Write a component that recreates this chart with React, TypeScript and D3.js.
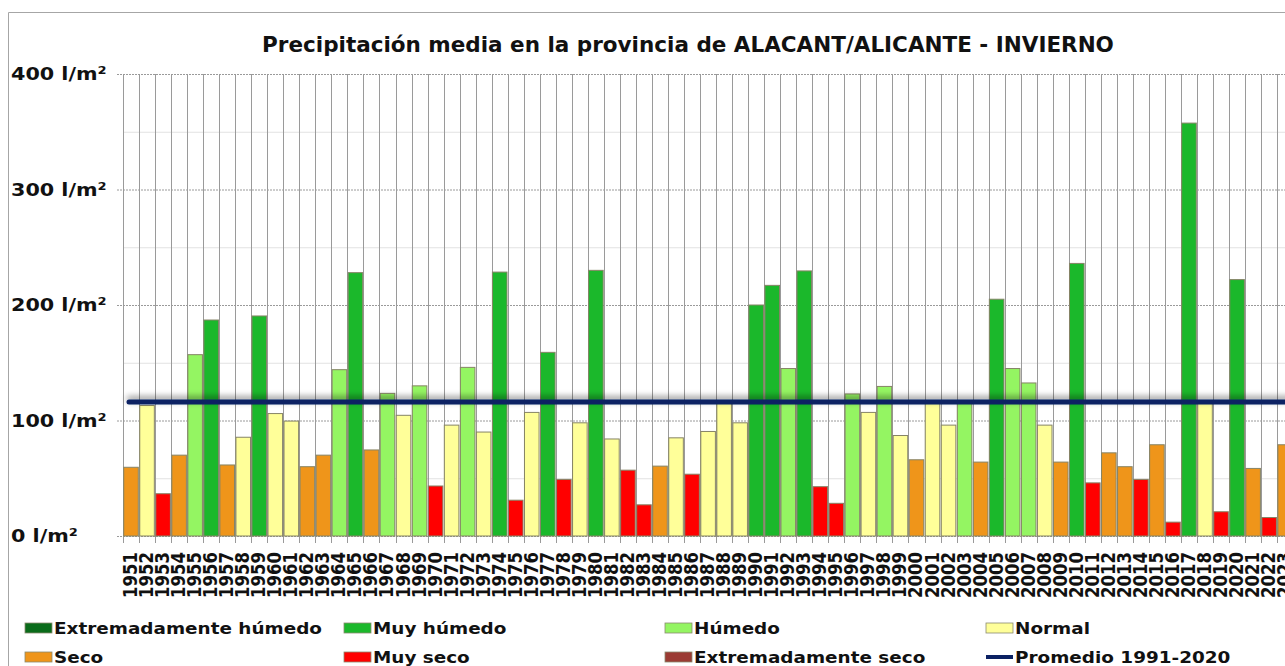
import { useEffect, useRef } from 'react';
import * as d3 from 'd3';

// Precipitación invierno, Alicante
const years = d3.range(1951, 2024).map(String);

const values = [
  59.5, 113, 36.6, 70, 157, 187, 61.5, 85.5, 190.5, 106,
  99.5, 60, 70, 144, 228, 74.5, 123.5, 104.5, 130, 43.3,
  96, 146, 90, 228.5, 31, 107, 159, 49, 98, 230,
  84, 57, 27, 60.5, 85, 53.5, 90.5, 115, 98, 200,
  217, 145, 229.5, 42.7, 28.3, 123, 107, 129.5, 87, 66,
  115, 96, 115, 64, 205, 145, 132.5, 96, 64, 236,
  46, 72, 60, 49, 79, 12, 357.5, 115, 21, 222,
  58.5, 16, 79,
];

// EH, MH, H, N, S, MS, ES
const classes = [
  'S', 'N', 'MS', 'S', 'H', 'MH', 'S', 'N', 'MH', 'N',
  'N', 'S', 'S', 'H', 'MH', 'S', 'H', 'N', 'H', 'MS',
  'N', 'H', 'N', 'MH', 'MS', 'N', 'MH', 'MS', 'N', 'MH',
  'N', 'MS', 'MS', 'S', 'N', 'MS', 'N', 'N', 'N', 'MH',
  'MH', 'H', 'MH', 'MS', 'MS', 'H', 'N', 'H', 'N', 'S',
  'N', 'N', 'H', 'S', 'MH', 'H', 'H', 'N', 'S', 'MH',
  'MS', 'S', 'S', 'MS', 'S', 'MS', 'MH', 'N', 'MS', 'MH',
  'S', 'MS', 'S',
];

const average = 116;
const yTicks = [0, 100, 200, 300, 400];
const yMinor = [50, 150, 250, 350];

const legendKeys = ['EH', 'MH', 'H', 'N', 'S', 'MS', 'ES', 'AVG'];
const legendLabels = [
  'Extremadamente húmedo', 'Muy húmedo', 'Húmedo', 'Normal',
  'Seco', 'Muy seco', 'Extremadamente seco', 'Promedio 1991-2020',
];

const colors: Record<string, string> = {
  EH: '#0a6b1a',
  MH: '#1bb82b',
  H: '#94f562',
  N: '#ffff99',
  S: '#ef951a',
  MS: '#ff0000',
  ES: '#9b3b33',
  AVG: '#0b2163',
};

const W = 1285;
const H = 666;
const SX = 1.15; // the original image is a bit stretched horizontally
const FONT = "'DejaVu Sans', Verdana, sans-serif";

const App = () => {
  const ref = useRef<SVGSVGElement>(null);

  useEffect(() => {
    const svg = d3.select(ref.current);
    svg.selectAll('*').remove();

    const step = 16.03;
    const left = 123;
    const x = d3.scaleBand()
      .domain(years)
      .range([left, left + years.length * step])
      .paddingInner(0.09)
      .paddingOuter(0.045);
    const y = d3.scaleLinear().domain([0, 400]).range([536, 74]);

    // frame
    svg.append('path')
      .attr('d', `M8.5,${H} V12.5 H${W}`)
      .attr('fill', 'none')
      .attr('stroke', '#a6a6a6');

    const defs = svg.append('defs');
    const f = defs.append('filter').attr('id', 'shadow')
      .attr('filterUnits', 'userSpaceOnUse')
      .attr('x', 0).attr('y', 0).attr('width', W).attr('height', H);
    f.append('feGaussianBlur').attr('in', 'SourceAlpha').attr('stdDeviation', 3).attr('result', 'b');
    f.append('feOffset').attr('in', 'b').attr('dy', -3).attr('result', 'o');
    f.append('feComponentTransfer').attr('in', 'o').attr('result', 'o2')
      .append('feFuncA').attr('type', 'linear').attr('slope', 0.45);
    const m = f.append('feMerge');
    m.append('feMergeNode').attr('in', 'o2');
    m.append('feMergeNode').attr('in', 'SourceGraphic');

    // minor grid
    svg.append('g').selectAll('line').data(yMinor).enter().append('line')
      .attr('x1', left).attr('x2', W)
      .attr('y1', (d) => y(d) + 0.5).attr('y2', (d) => y(d) + 0.5)
      .attr('stroke', '#e2e2e2');

    // major grid (dashed)
    svg.append('g').selectAll('line').data(yTicks).enter().append('line')
      .attr('x1', 117).attr('x2', W)
      .attr('y1', (d) => y(d) + 0.5).attr('y2', (d) => y(d) + 0.5)
      .attr('stroke', '#9a9a9a')
      .attr('stroke-dasharray', '2,1');

    // vertical category lines + ticks
    const bounds = d3.range(years.length + 1).map((i) => left + i * x.step());
    svg.append('g').selectAll('line').data(bounds).enter().append('line')
      .attr('x1', (d) => Math.round(d) + 0.5).attr('x2', (d) => Math.round(d) + 0.5)
      .attr('y1', y(400)).attr('y2', y(0) + 7)
      .attr('stroke', '#9a9a9a');

    // bars
    svg.append('g').selectAll('rect').data(values).enter().append('rect')
      .attr('x', (_d, i) => x(years[i])!)
      .attr('y', (d) => y(d))
      .attr('width', x.bandwidth())
      .attr('height', (d) => y(0) - y(d))
      .attr('fill', (_d, i) => colors[classes[i]])
      .attr('stroke', '#868466')
      .attr('stroke-width', 1);

    // average line
    svg.append('line')
      .attr('x1', x(years[0])! + x.bandwidth() / 2 - 2)
      .attr('x2', W + 10)
      .attr('y1', y(average)).attr('y2', y(average))
      .attr('stroke', colors.AVG)
      .attr('stroke-width', 5)
      .attr('stroke-linecap', 'round')
      .attr('filter', 'url(#shadow)');

    // y labels
    svg.append('g').selectAll('text').data(yTicks).enter().append('text')
      .attr('transform', (d) => `translate(11,${y(d) + 6}) scale(${SX},1)`)
      .attr('font-family', FONT)
      .attr('font-weight', 'bold')
      .attr('font-size', 18)
      .attr('fill', '#111')
      .text((d) => `${d} l/m²`);

    // x labels
    svg.append('g').selectAll('text').data(years).enter().append('text')
      .attr('transform', (d) => `translate(${x(d)! + x.bandwidth() / 2 + 6},552) scale(${SX},1) rotate(-90)`)
      .attr('text-anchor', 'end')
      .attr('font-family', FONT)
      .attr('font-weight', 'bold')
      .attr('font-size', 16.5)
      .attr('fill', '#111')
      .text((d) => d);

    // title
    svg.append('text')
      .attr('x', 688).attr('y', 52)
      .attr('text-anchor', 'middle')
      .attr('font-family', FONT)
      .attr('font-weight', 'bold')
      .attr('font-size', 21.5)
      .attr('fill', '#111')
      .text('Precipitación media en la provincia de ALACANT/ALICANTE - INVIERNO');

    // legend
    const colX = [25, 344, 665, 986];
    const rowY = [628, 657];
    const lg = svg.append('g').selectAll('g').data(legendKeys).enter().append('g')
      .attr('transform', (_d, i) => `translate(${colX[i % 4]},${rowY[Math.floor(i / 4)]})`);
    lg.each(function (d) {
      const g = d3.select(this);
      if (d === 'AVG') {
        g.append('line').attr('x1', 0).attr('x2', 27).attr('y1', 0).attr('y2', 0)
          .attr('stroke', colors.AVG).attr('stroke-width', 4);
      } else {
        g.append('rect').attr('x', 0).attr('y', -5).attr('width', 27).attr('height', 10)
          .attr('fill', colors[d]).attr('stroke', '#8a8a70').attr('stroke-width', 0.8);
      }
    });
    lg.append('text')
      .attr('transform', `translate(29,6) scale(${SX},1)`)
      .attr('font-family', FONT)
      .attr('font-weight', 'bold')
      .attr('font-size', 16)
      .attr('fill', '#111')
      .text((_d, i) => legendLabels[i]);
  }, []);

  return (
    <div style={{ position: 'absolute', left: 0, top: 0, width: W, height: H, overflow: 'hidden', background: '#fff' }}>
      <svg ref={ref} width={W} height={H} style={{ display: 'block' }} />
    </div>
  );
};

export default App;
